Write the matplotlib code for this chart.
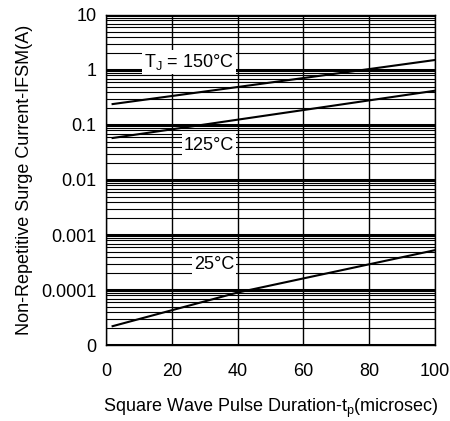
import matplotlib
matplotlib.use("Agg")
import matplotlib.pyplot as plt
import numpy as np

plt.rcParams['font.family'] = ['Liberation Sans', 'DejaVu Sans']

# data
x_150 = [2, 40, 80, 100]
y_150 = [0.24, 0.49, 1.04, 1.52]
x_125 = [2, 60, 100]
y_125 = [0.058, 0.187, 0.42]
x_25 = [2, 40, 100]
y_25 = [2.2e-5, 9.0e-5, 5.3e-4]

yticks = [1e-5, 1e-4, 1e-3, 1e-2, 1e-1, 1, 10]
ytick_labels = ["0", "0.0001", "0.001", "0.01", "0.1", "1", "10"]
xticks = [0, 20, 40, 60, 80, 100]

fig = plt.figure(figsize=(4.5, 4.21), dpi=100)
ax = fig.add_axes([0.2356, 0.1805, 0.7311, 0.7839])
ax.set_yscale('log')
ax.set_xlim(0, 100)
ax.set_ylim(1e-5, 10)

ax.plot(x_150, y_150, color='black', lw=1.5, zorder=5)
ax.plot(x_125, y_125, color='black', lw=1.5, zorder=5)
ax.plot(x_25, y_25, color='black', lw=1.5, zorder=5)

ax.set_yticks(yticks)
ax.set_yticklabels(ytick_labels)
ax.set_xticks(xticks)
ax.yaxis.set_minor_locator(matplotlib.ticker.LogLocator(base=10, subs=np.arange(2, 10)))
ax.yaxis.set_minor_formatter(matplotlib.ticker.NullFormatter())
ax.tick_params(which='both', length=0, labelsize=13)
ax.tick_params(axis='y', pad=7)
ax.tick_params(axis='x', pad=13)
ax.grid(True, which='major', axis='y', color='black', lw=2.2)
ax.grid(True, which='minor', axis='y', color='black', lw=0.8)
ax.grid(True, which='major', axis='x', color='black', lw=1.0)
for s in ax.spines.values():
    s.set_linewidth(1.0)

bbox = dict(facecolor='white', edgecolor='none', pad=1.5)
ax.text(39, 1.4, "T$_\\mathregular{J}$ = 150°C", fontsize=13, ha='right', va='center', bbox=bbox, zorder=6)
ax.text(39, 0.043, "125°C", fontsize=13, ha='right', va='center', bbox=bbox, zorder=6)
ax.text(39, 0.000285, "25°C", fontsize=13, ha='right', va='center', bbox=bbox, zorder=6)

ax.set_xlabel("Square Wave Pulse Duration-t$_\\mathregular{p}$(microsec)", fontsize=13, labelpad=12)
ax.set_ylabel("Non-Repetitive Surge Current-IFSM(A)", fontsize=13, labelpad=6)

fig.savefig("out.png", dpi=100)
